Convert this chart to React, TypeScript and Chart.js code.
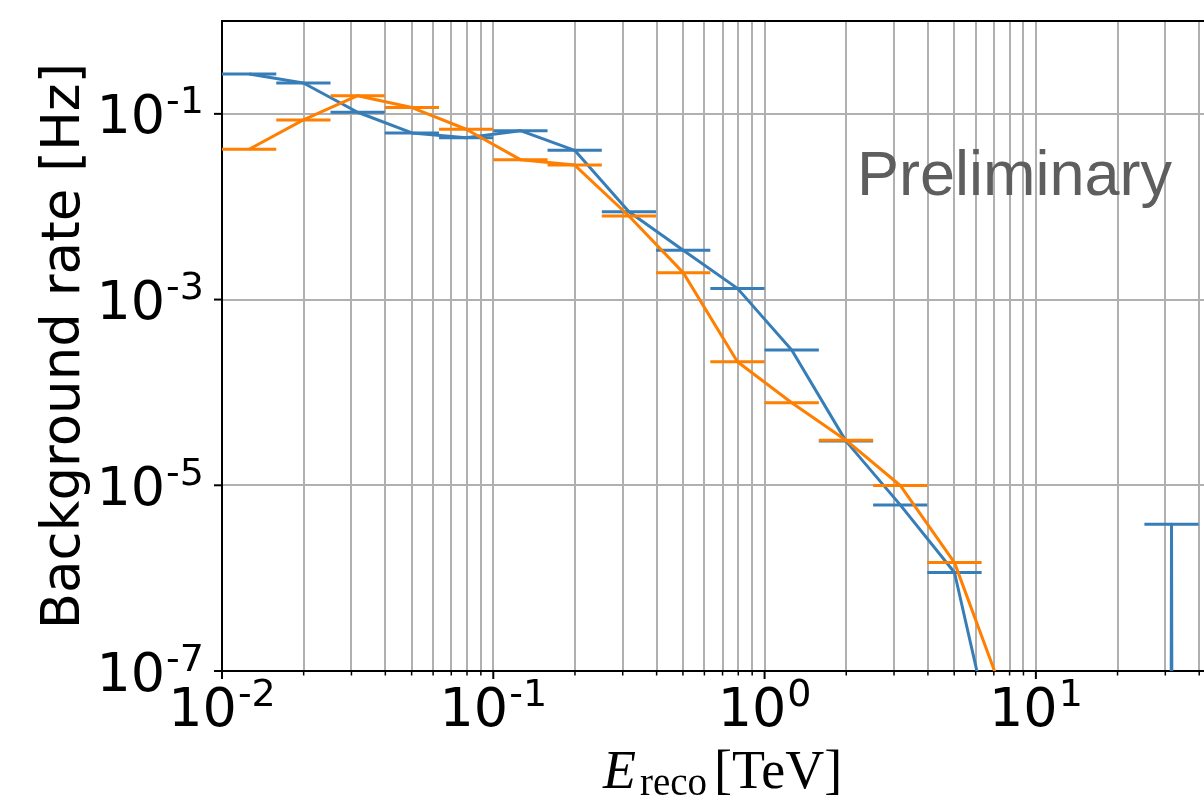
import React, { useEffect, useRef } from "react";
import { Chart, registerables } from "chart.js";

Chart.register(...registerables);

// Energy bin edges [TeV] (5 bins per decade)
const binEdges = [
  0.01, 0.01585, 0.02512, 0.03981, 0.0631, 0.1, 0.1585, 0.2512, 0.3981, 0.631,
  1, 1.585, 2.512, 3.981, 6.31, 10, 15.85, 25.12, 39.81, 63.1,
];

// Background rate [Hz] per bin
const blueRate = [
  0.269, 0.215, 0.104, 0.0623, 0.0554, 0.0659, 0.0405, 0.00883, 0.00339, 0.00132,
  2.86e-4, 2.99e-5, 6.15e-6, 1.15e-6, 3.1e-9, 0, 0, 3.81e-6, 0,
];
const orangeRate = [
  0.0416, 0.086, 0.157, 0.117, 0.0683, 0.0321, 0.0281, 0.00794, 0.00195, 2.14e-4,
  7.73e-5, 3.06e-5, 9.95e-6, 1.47e-6, 3.85e-8, 0, 0, 0, 0,
];

const xMajorTicks = [0.01, 0.1, 1, 10];
const xMajorExp = ["-2", "-1", "0", "1"];
const xMinorTicks = [
  0.02, 0.03, 0.04, 0.05, 0.06, 0.07, 0.08, 0.09,
  0.2, 0.3, 0.4, 0.5, 0.6, 0.7, 0.8, 0.9,
  2, 3, 4, 5, 6, 7, 8, 9,
  20, 30, 40,
];
const yMajorTicks = [1e-7, 1e-5, 1e-3, 1e-1];
const yMajorExp = ["-7", "-5", "-3", "-1"];

const xMin = 0.01;
const xMax = 41.66;
const yMin = 1e-7;
const yMax = 1;

const BLUE = "#377eb8";
const ORANGE = "#ff7f00";
const GRID = "#b0b0b0";

const FLOOR = 1e-300; // zero bins are clipped far below the axis, like matplotlib

function centers() {
  const c: number[] = [];
  for (let i = 0; i < binEdges.length - 1; i++) c.push(Math.sqrt(binEdges[i] * binEdges[i + 1]));
  return c;
}

function stepBars(rates: number[]) {
  const pts: { x: number; y: number | null }[] = [];
  rates.forEach((r, i) => {
    if (r <= 0) return;
    pts.push({ x: binEdges[i], y: r });
    pts.push({ x: binEdges[i + 1], y: r });
    pts.push({ x: binEdges[i + 1], y: null });
  });
  return pts;
}

function centerLine(rates: number[]) {
  const c = centers();
  return rates.map((r, i) => ({ x: c[i], y: r > 0 ? r : FLOOR }));
}

function drawSci(
  ctx: CanvasRenderingContext2D,
  exp: string,
  x: number,
  baseY: number,
  align: "center" | "right"
) {
  const big = "54px 'DejaVu Sans'";
  const small = "38px 'DejaVu Sans'";
  ctx.font = big;
  const w1 = ctx.measureText("10").width;
  ctx.font = small;
  const w2 = ctx.measureText(exp).width;
  const total = w1 + 1 + w2;
  const start = align === "center" ? x - total / 2 : x - total;
  ctx.textAlign = "left";
  ctx.textBaseline = "alphabetic";
  ctx.fillStyle = "#000";
  ctx.font = big;
  ctx.fillText("10", start, baseY);
  ctx.font = small;
  ctx.fillText(exp, start + w1 + 1, baseY - 20);
}

const decorPlugin = {
  id: "decor",
  afterDraw(chart: any) {
    const { ctx, chartArea, scales } = chart;
    const xs = scales.x;
    const ys = scales.y;
    ctx.save();
    // top spine
    ctx.strokeStyle = "#000";
    ctx.lineWidth = 2;
    ctx.beginPath();
    ctx.moveTo(chartArea.left - 1, chartArea.top);
    ctx.lineTo(chartArea.right, chartArea.top);
    ctx.stroke();

    // x tick marks
    xMajorTicks.forEach((v) => {
      const px = xs.getPixelForValue(v);
      ctx.lineWidth = 2;
      ctx.beginPath();
      ctx.moveTo(px, chartArea.bottom);
      ctx.lineTo(px, chartArea.bottom + 8);
      ctx.stroke();
    });
    xMinorTicks.forEach((v) => {
      if (v > xMax) return;
      const px = xs.getPixelForValue(v);
      ctx.lineWidth = 1.5;
      ctx.beginPath();
      ctx.moveTo(px, chartArea.bottom);
      ctx.lineTo(px, chartArea.bottom + 4.5);
      ctx.stroke();
    });
    // y tick marks
    yMajorTicks.forEach((v) => {
      const py = ys.getPixelForValue(v);
      ctx.lineWidth = 2;
      ctx.beginPath();
      ctx.moveTo(chartArea.left, py);
      ctx.lineTo(chartArea.left - 8, py);
      ctx.stroke();
    });

    // tick labels
    xMajorTicks.forEach((v, i) => {
      const px = xs.getPixelForValue(v);
      drawSci(ctx, xMajorExp[i], px, chartArea.bottom + 55, "center");
    });
    yMajorTicks.forEach((v, i) => {
      const py = ys.getPixelForValue(v);
      drawSci(ctx, yMajorExp[i], 204, py + 19.5, "right");
    });

    // y axis title
    ctx.save();
    ctx.translate(79, (chartArea.top + chartArea.bottom) / 2);
    ctx.rotate(-Math.PI / 2);
    ctx.font = "53px 'DejaVu Sans'";
    ctx.textAlign = "center";
    ctx.textBaseline = "alphabetic";
    ctx.fillStyle = "#000";
    ctx.fillText("Background rate [Hz]", 0, 0);
    ctx.restore();

    // x axis title: E_reco [TeV]
    ctx.fillStyle = "#000";
    ctx.textAlign = "left";
    ctx.textBaseline = "alphabetic";
    ctx.font = "italic 54px 'Liberation Serif'";
    ctx.fillText("E", 603, 788);
    ctx.font = "39px 'Liberation Serif'";
    ctx.fillText("reco", 640, 795);
    ctx.font = "54px 'Liberation Serif'";
    ctx.fillText("[TeV]", 714, 788);

    // Preliminary
    ctx.font = "63px 'Liberation Sans'";
    ctx.fillStyle = "#5e5e5e";
    ctx.fillText("Preliminary", 857, 195);

    ctx.restore();
  },
};

export default function App() {
  const ref = useRef<HTMLCanvasElement | null>(null);

  useEffect(() => {
    if (!ref.current) return;
    const lineCommon = {
      pointRadius: 0,
      borderWidth: 3,
      borderJoinStyle: "round" as const,
      borderCapStyle: "butt" as const,
      tension: 0,
      spanGaps: false,
      fill: false,
    };
    const chart = new Chart(ref.current, {
      type: "line",
      data: {
        datasets: [
          { label: "orange bins", data: stepBars(orangeRate), borderColor: ORANGE, order: 0, ...lineCommon },
          { label: "orange", data: centerLine(orangeRate), borderColor: ORANGE, order: 1, ...lineCommon },
          { label: "blue bins", data: stepBars(blueRate), borderColor: BLUE, order: 2, ...lineCommon },
          { label: "blue", data: centerLine(blueRate), borderColor: BLUE, order: 3, ...lineCommon },
        ] as any,
      },
      options: {
        animation: false,
        responsive: false,
        devicePixelRatio: 1,
        events: [],
        layout: { padding: { top: 21, left: 0, right: 0, bottom: 0 } },
        plugins: {
          legend: { display: false },
          tooltip: { enabled: false },
          title: { display: false },
        },
        scales: {
          x: {
            type: "logarithmic",
            min: xMin,
            max: xMax,
            afterBuildTicks: (scale: any) => {
              scale.ticks = [...xMajorTicks, ...xMinorTicks]
                .filter((v) => v <= xMax)
                .sort((a, b) => a - b)
                .map((v) => ({ value: v }));
            },
            afterFit: (scale: any) => {
              scale.height = 137;
            },
            ticks: { display: false },
            grid: { color: GRID, lineWidth: 2, drawTicks: false },
            border: { display: true, color: "#000", width: 2 },
          },
          y: {
            type: "logarithmic",
            min: yMin,
            max: yMax,
            afterBuildTicks: (scale: any) => {
              scale.ticks = yMajorTicks.map((v) => ({ value: v }));
            },
            afterFit: (scale: any) => {
              scale.width = 222;
            },
            ticks: { display: false },
            grid: { color: GRID, lineWidth: 2, drawTicks: false },
            border: { display: true, color: "#000", width: 2 },
          },
        },
      } as any,
      plugins: [decorPlugin],
    });
    return () => chart.destroy();
  }, []);

  return (
    <div style={{ position: "fixed", left: 0, top: 0, width: 1204, height: 808, background: "#fff" }}>
      <canvas ref={ref} width={1204} height={808} style={{ width: 1204, height: 808, display: "block" }} />
    </div>
  );
}
